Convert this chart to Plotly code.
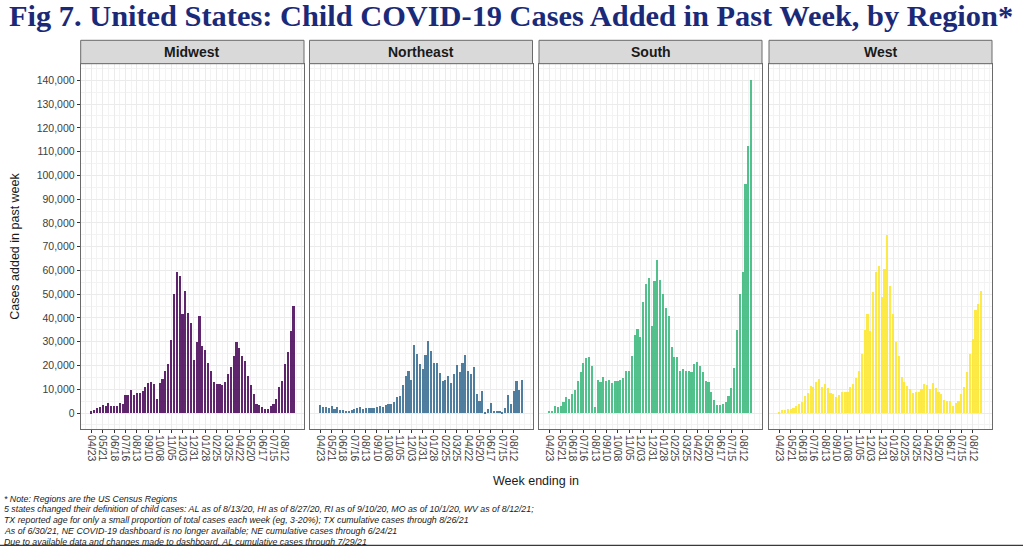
import plotly.graph_objects as go

W, H = 1023, 546

regions = ["Midwest", "Northeast", "South", "West"]
colors = ["#440154", "#31688E", "#35B779", "#FDE725"]

weeks = [
    "2020-04-23", "2020-04-30", "2020-05-07", "2020-05-14", "2020-05-21", "2020-05-28",
    "2020-06-04", "2020-06-11", "2020-06-18", "2020-06-25", "2020-07-02", "2020-07-09",
    "2020-07-16", "2020-07-23", "2020-07-30", "2020-08-06", "2020-08-13", "2020-08-20",
    "2020-08-27", "2020-09-03", "2020-09-10", "2020-09-17", "2020-09-24", "2020-10-01",
    "2020-10-08", "2020-10-15", "2020-10-22", "2020-10-29", "2020-11-05", "2020-11-12",
    "2020-11-19", "2020-11-26", "2020-12-03", "2020-12-10", "2020-12-17", "2020-12-24",
    "2020-12-31", "2021-01-07", "2021-01-14", "2021-01-21", "2021-01-28", "2021-02-04",
    "2021-02-11", "2021-02-18", "2021-02-25", "2021-03-04", "2021-03-11", "2021-03-18",
    "2021-03-25", "2021-04-01", "2021-04-08", "2021-04-15", "2021-04-22", "2021-04-29",
    "2021-05-06", "2021-05-13", "2021-05-20", "2021-05-27", "2021-06-03", "2021-06-10",
    "2021-06-17", "2021-06-24", "2021-07-01", "2021-07-08", "2021-07-15", "2021-07-22",
    "2021-07-29", "2021-08-05", "2021-08-12", "2021-08-19", "2021-08-26", "2021-09-02",
]

midwest = [
    800, 1500, 2100, 2500, 3500, 3100, 4200, 3000, 3100, 3000, 4400, 3800,
    7900, 7900, 9700, 7900, 8500, 8700, 9200, 11100, 12700, 13200, 12400, 5900,
    12700, 14400, 17700, 20800, 30700, 50400, 59600, 57600, 41700, 51500, 42400, 38000,
    22500, 30000, 41000, 28500, 26500, 21300, 18000, 13200, 12500, 12400, 12000, 13000,
    16600, 19400, 24000, 29900, 27300, 24200, 22100, 15800, 12100, 8000, 3800, 3700,
    2500, 2000, 2000, 3000, 4100, 6000, 11100, 13800, 20600, 26000, 34800, 45000,
]

northeast = [
    3400, 2800, 2500, 2400, 3000, 2000, 2700, 1500, 1400, 1100, 1100, 1400,
    1700, 2300, 2700, 1800, 2400, 2100, 2100, 2100, 2500, 3100, 2500, 3500,
    4100, 4100, 4600, 6900, 7200, 11800, 15800, 18000, 14100, 28700, 24800, 20800,
    18700, 24400, 30400, 26200, 21000, 21300, 16900, 13400, 14200, 15900, 12800, 16600,
    20300, 17500, 21100, 24400, 17900, 16500, 19600, 8200, 5100, 9200, 300, 1800,
    4200, 1000, 1100, 1100, 300, 2400, 7500, 4100, 9300, 13700, 9600, 14100,
]

south = [
    1100, 1100, 3100, 2800, 3000, 4600, 6800, 5900, 8300, 10000, 13400, 17500,
    21000, 23200, 23500, 20000, 2500, 14100, 13100, 15200, 13500, 14200, 12700, 13700,
    13700, 13900, 14900, 17900, 17700, 24200, 33000, 35400, 32300, 46800, 54600, 57000,
    36800, 55600, 64400, 56200, 50100, 44400, 40800, 28000, 23700, 23500, 17700, 18500,
    17700, 17600, 17200, 20700, 21400, 19900, 17200, 13800, 13100, 8900, 5600, 3400,
    3400, 3900, 4600, 7300, 10600, 18900, 35200, 50000, 59600, 96500, 112500, 140400,
]

west = [
    600, 1300, 1400, 2000, 2000, 2400, 3200, 3800, 4800, 7400, 8700, 11400,
    11200, 13000, 14300, 11200, 12500, 10800, 8600, 8100, 6700, 7600, 8800, 8800,
    8800, 11100, 12500, 14900, 17700, 24800, 35000, 41800, 34800, 50900, 59600, 62000,
    49000, 60600, 75200, 53700, 41900, 29900, 24000, 15400, 13300, 11400, 10200, 8700,
    9000, 9100, 10200, 12300, 12000, 10200, 12600, 10700, 8800, 8000, 5600, 5000,
    5200, 3200, 4200, 5000, 8000, 10900, 17500, 24800, 31300, 43500, 45900, 51600,
]

series = [midwest, northeast, south, west]

tick_dates = [
    "2020-04-23", "2020-05-21", "2020-06-18", "2020-07-16", "2020-08-13", "2020-09-10",
    "2020-10-08", "2020-11-05", "2020-12-03", "2020-12-31", "2021-01-28", "2021-02-25",
    "2021-03-25", "2021-04-22", "2021-05-20", "2021-06-17", "2021-07-15", "2021-08-12",
]
tick_labels = [
    "04/23", "05/21", "06/18", "07/16", "08/13", "09/10", "10/08", "11/05", "12/03",
    "12/31", "01/28", "02/25", "03/25", "04/22", "05/20", "06/17", "07/15", "08/12",
]

title = "Fig 7. United States: Child COVID-19 Cases Added in Past Week, by Region*"
y_title = "Cases added in past week"
x_title = "Week ending in"
notes = [
    "* Note: Regions are the US Census Regions",
    "5 states changed their definition of child cases: AL as of 8/13/20, HI as of 8/27/20, RI as of 9/10/20, MO as of 10/1/20, WV as of 8/12/21;",
    "TX reported age for only a small proportion of total cases each week (eg, 3-20%); TX cumulative cases through 8/26/21",
    "As of 6/30/21, NE COVID-19 dashboard is no longer available; NE cumulative cases through 6/24/21",
    "Due to available data and changes made to dashboard, AL cumulative cases through 7/29/21",
]

# ---------------- layout geometry (pixels) ----------------
panel_px = [(80.7, 304.0), (309.5, 532.5), (539.0, 762.0), (769.0, 992.0)]
plot_top, plot_bot = 63.7, 429.0
strip_top = 40.3
DAY = 86400000

def px(x):
    return x / W

def py(y):
    return 1 - y / H

FONT = "Liberation Sans, Arial, sans-serif"
fig = go.Figure()
layout = dict(
    width=W, height=H,
    margin=dict(l=0, r=0, t=0, b=0),
    paper_bgcolor="white", plot_bgcolor="white",
    showlegend=False, bargap=0,
    font=dict(family=FONT, color="#333333"),
)

shapes = []
annotations = []

for k, (name, col, vals) in enumerate(zip(regions, colors, series)):
    xa = "x" if k == 0 else f"x{k+1}"
    ya = "y" if k == 0 else f"y{k+1}"
    fig.add_trace(go.Bar(
        x=weeks, y=vals, xaxis=xa, yaxis=ya,
        marker=dict(color=col, line=dict(width=0)), opacity=0.85,
        width=4.0 * DAY,
    ))
    x0, x1 = panel_px[k]
    layout["xaxis" if k == 0 else f"xaxis{k+1}"] = dict(
        domain=[px(x0), px(x1)], anchor=ya, type="date",
        range=["2020-03-28", "2021-09-28"],
        tickmode="array", tickvals=tick_dates, ticktext=tick_labels,
        tickangle=90, ticks="outside", ticklen=3, tickcolor="#333333", tickwidth=1,
        tickfont=dict(family=FONT, size=10.5, color="#404040"),
        showgrid=True, gridcolor="#ebebeb", gridwidth=1,
        minor=dict(tickmode="linear", tick0="2020-04-23", dtick=14 * DAY,
                   showgrid=True, gridcolor="#f3f3f3", gridwidth=0.6, ticks=""),
        showline=True, linecolor="#6a6a6a", linewidth=1, mirror=True,
        zeroline=False, fixedrange=True,
    )
    ykey = "yaxis" if k == 0 else f"yaxis{k+1}"
    yd = dict(
        domain=[py(plot_bot), py(plot_top)], anchor=xa,
        range=[-6730, 146990],
        tickmode="linear", tick0=0, dtick=10000,
        showgrid=True, gridcolor="#ebebeb", gridwidth=1,
        minor=dict(tickmode="linear", tick0=0, dtick=5000,
                   showgrid=True, gridcolor="#f3f3f3", gridwidth=0.6, ticks=""),
        showline=True, linecolor="#6a6a6a", linewidth=1, mirror=True,
        zeroline=False, fixedrange=True,
    )
    if k == 0:
        yd.update(ticks="outside", ticklen=3, tickcolor="#333333",
                  tickformat=",d", tickfont=dict(family=FONT, size=10.5, color="#404040"))
    else:
        yd.update(ticks="", showticklabels=False, matches="y")
    layout[ykey] = yd

    # strip
    shapes.append(dict(type="rect", xref="paper", yref="paper",
                       x0=px(x0), x1=px(x1), y0=py(plot_top), y1=py(strip_top),
                       fillcolor="#d9d9d9", line=dict(color="#6a6a6a", width=1), layer="above"))
    annotations.append(dict(text=f"<b>{name}</b>", xref="paper", yref="paper",
                            x=px((x0 + x1) / 2), y=py((plot_top + strip_top) / 2),
                            xanchor="center", yanchor="middle", showarrow=False,
                            font=dict(family=FONT, size=14, color="#1a1a1a")))

# title
annotations.append(dict(text=f"<b>{title}</b>", xref="paper", yref="paper",
                        x=px(7), y=py(15.5), xanchor="left", yanchor="middle",
                        showarrow=False,
                        font=dict(family="Liberation Serif, Times New Roman, serif",
                                  size=30.4, color="#1b2a78")))
# axis titles
annotations.append(dict(text=y_title, xref="paper", yref="paper",
                        x=px(15.5), y=py((plot_top + plot_bot) / 2),
                        xanchor="center", yanchor="middle", textangle=-90,
                        showarrow=False, font=dict(family=FONT, size=12.5, color="#1a1a1a")))
annotations.append(dict(text=x_title, xref="paper", yref="paper",
                        x=px(536), y=py(481), xanchor="center", yanchor="middle",
                        showarrow=False, font=dict(family=FONT, size=12.5, color="#1a1a1a")))
# notes
for i, line in enumerate(notes):
    annotations.append(dict(text=f"<i>{line}</i>", xref="paper", yref="paper",
                            x=px(2), y=py(498.5 + 10.8 * i), xanchor="left", yanchor="middle",
                            showarrow=False, font=dict(family=FONT, size=8.8, color="#1a1a1a")))

# bottom dark rule
shapes.append(dict(type="rect", xref="paper", yref="paper",
                   x0=0, x1=1, y0=0, y1=py(544.8),
                   fillcolor="#3a3a3a", line=dict(width=0), layer="above"))

layout["shapes"] = shapes
layout["annotations"] = annotations
fig.update_layout(**layout)
fig.write_html("out.html", config={"displayModeBar": False},
               post_script="document.body.style.margin='0';document.body.style.overflow='hidden';")
